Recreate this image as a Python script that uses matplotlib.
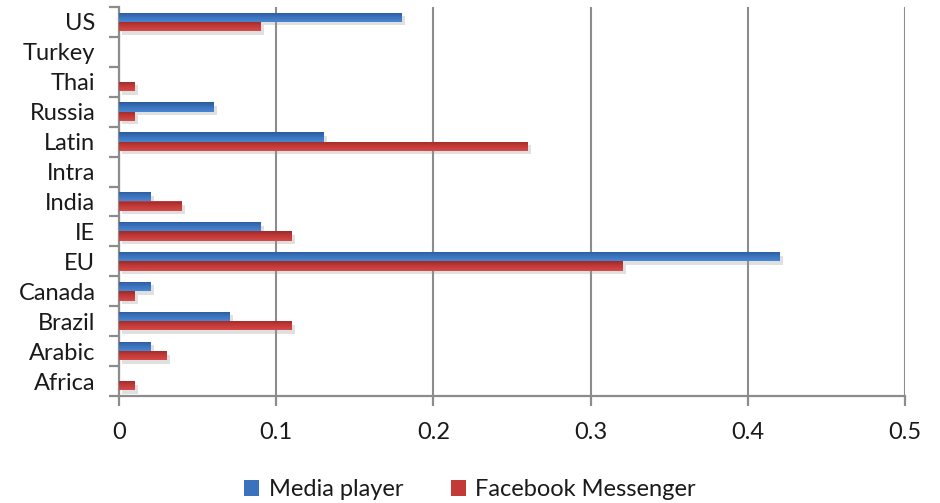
import matplotlib
matplotlib.use("Agg")
import matplotlib.pyplot as plt
import matplotlib.patheffects as pe
from matplotlib.patches import Patch
import numpy as np
from matplotlib.colors import LinearSegmentedColormap

plt.rcParams['font.family'] = ['Lato', 'DejaVu Sans']

# Regions, listed bottom to top on the category axis
regions = ["Africa", "Arabic", "Brazil", "Canada", "EU", "IE", "India",
           "Intra", "Latin", "Russia", "Thai", "Turkey", "US"]
media_player = [0.00, 0.02, 0.07, 0.02, 0.42, 0.09, 0.02,
                0.00, 0.13, 0.06, 0.00, 0.00, 0.18]
facebook_messenger = [0.01, 0.03, 0.11, 0.01, 0.32, 0.11, 0.04,
                      0.00, 0.26, 0.01, 0.01, 0.00, 0.09]
series_names = ["Media player", "Facebook Messenger"]
x_ticks = [0, 0.1, 0.2, 0.3, 0.4, 0.5]
x_tick_labels = ["0", "0.1", "0.2", "0.3", "0.4", "0.5"]

fig = plt.figure(figsize=(9.4, 5.03), dpi=100)
ax = fig.add_axes([119 / 940, 1 - 396 / 503, (905 - 119) / 940, (396 - 7) / 503])

y = np.arange(len(regions))
h = 0.31

blue_cmap = LinearSegmentedColormap.from_list("b", ["#4a86d0", "#3b72bd", "#2a5a9c"])
red_cmap = LinearSegmentedColormap.from_list("r", ["#d34a48", "#c23a38", "#9c2a29"])

shadow = [pe.SimplePatchShadow(offset=(2.5, -2.5), shadow_rgbFace="#999999", alpha=0.3), pe.Normal()]

def shaded_bars(values, pos, cmap, base):
    bars = ax.barh(pos, values, height=h, color=base, zorder=3,
                   linewidth=0, path_effects=shadow)
    grad = np.linspace(0, 1, 64).reshape(-1, 1)
    for b in bars:
        if b.get_width() <= 0:
            continue
        x0, y0 = b.get_x(), b.get_y()
        im = ax.imshow(grad, cmap=cmap, aspect="auto", zorder=4,
                       extent=(x0, x0 + b.get_width(), y0 + b.get_height(), y0),
                       origin="upper", interpolation="bilinear")
        im.set_clip_path(b)
    return bars

shaded_bars(media_player, y + h / 2, blue_cmap, "#3b72bd")
shaded_bars(facebook_messenger, y - h / 2, red_cmap, "#c23a38")

ax.set_xlim(0, 0.5)
ax.set_ylim(-0.5, len(regions) - 0.5)
ax.set_xticks(x_ticks)
ax.set_xticklabels(x_tick_labels)
ax.set_yticks(y)
ax.set_yticklabels(regions)
ax.set_yticks(np.arange(-0.5, len(regions), 1.0), minor=True)

ax.tick_params(axis="y", which="major", length=0, labelsize=17, pad=17, labelcolor="#1a1a1a")
ax.tick_params(axis="y", which="minor", length=7, width=1.6, color="#8c8c8c")
ax.tick_params(axis="x", length=7, width=1.6, color="#8c8c8c", labelsize=17, pad=12,
               labelcolor="#1a1a1a")

ax.grid(axis="x", color="#8c8c8c", linewidth=1.5, zorder=0)
ax.set_axisbelow(True)
for side in ("top", "right"):
    ax.spines[side].set_visible(False)
for side in ("left", "bottom"):
    ax.spines[side].set_color("#8c8c8c")
    ax.spines[side].set_linewidth(1.6)

handles = [Patch(facecolor="#3b72bd", edgecolor="none"),
           Patch(facecolor="#c23a38", edgecolor="none")]
leg = fig.legend(handles, series_names, loc="center", bbox_to_anchor=(470 / 940, 1 - 490 / 503),
                 ncol=2, frameon=False, fontsize=17, handlelength=0.65, handleheight=0.65,
                 handletextpad=0.4, columnspacing=2.0)
for t in leg.get_texts():
    t.set_color("#1a1a1a")

fig.savefig("out.png", dpi=100)
